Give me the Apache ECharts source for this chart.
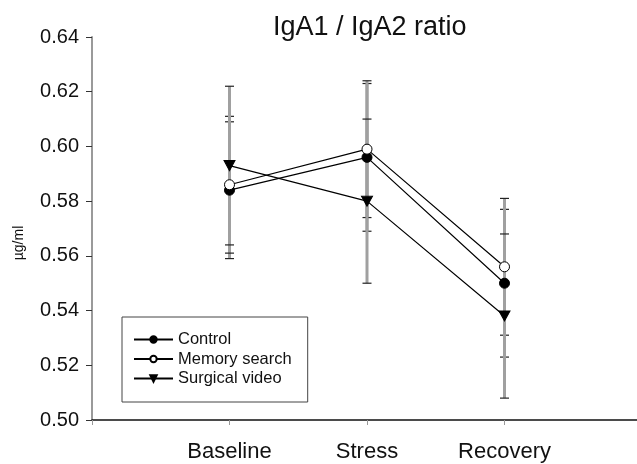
<!DOCTYPE html>
<html>
<head>
<meta charset="utf-8">
<script src="https://cdn.jsdelivr.net/npm/echarts@6/dist/echarts.min.js"></script>
<style>
  html, body { margin: 0; padding: 0; background: #fff; }
  #chart { width: 637px; height: 464px; }
</style>
</head>
<body>
<div id="chart"></div>
<script>
// Phases of the session
const categories = ['Baseline', 'Stress', 'Recovery'];

// Group means (IgA1 / IgA2 ratio)
const controlMean = [0.584, 0.596, 0.550];
const memoryMean = [0.586, 0.599, 0.556];
const surgicalMean = [0.593, 0.580, 0.538];

// Standard errors
const controlErr = [0.025, 0.027, 0.027];
const memoryErr = [0.025, 0.025, 0.025];
const surgicalErr = [0.029, 0.030, 0.030];

const seriesNames = ['Control', 'Memory search', 'Surgical video'];
const yTicks = [0.50, 0.52, 0.54, 0.56, 0.58, 0.60, 0.62, 0.64];

const FONT = '"Liberation Sans", Arial, Helvetica, sans-serif';

// category axis padded with empty slots on both sides
const axisCats = [''].concat(categories, ['']);

function pointsOf(means) {
  return categories.map((c, i) => [c, means[i]]);
}
function barsOf(means, errs) {
  return categories.map((c, i) => [c, means[i] - errs[i], means[i] + errs[i]]);
}

function renderErrorBar(params, api) {
  const x = api.value(0);
  const lo = api.coord([x, api.value(1)]);
  const hi = api.coord([x, api.value(2)]);
  const cap = 4.5;
  return {
    type: 'group',
    children: [
      { type: 'line', shape: { x1: lo[0], y1: lo[1], x2: hi[0], y2: hi[1] },
        style: { stroke: '#a0a0a0', lineWidth: 3 } },
      { type: 'line', shape: { x1: lo[0] - cap, y1: lo[1], x2: lo[0] + cap, y2: lo[1] },
        style: { stroke: '#222', lineWidth: 1.2 } },
      { type: 'line', shape: { x1: hi[0] - cap, y1: hi[1], x2: hi[0] + cap, y2: hi[1] },
        style: { stroke: '#222', lineWidth: 1.2 } }
    ]
  };
}

function errSeries(means, errs) {
  return {
    type: 'custom',
    renderItem: renderErrorBar,
    data: barsOf(means, errs),
    encode: { x: 0, y: [1, 2] },
    z: 1,
    silent: true
  };
}

const triDown = 'path://M0,0L10,0L5,9Z';

const chart = echarts.init(document.getElementById('chart'), null, { renderer: 'canvas' });
chart.setOption({
  animation: false,
  backgroundColor: '#fff',
  textStyle: { fontFamily: FONT },
  title: {
    text: 'IgA1 / IgA2 ratio',
    left: 268,
    top: 9,
    textStyle: { fontFamily: FONT, fontSize: 27, fontWeight: 'normal', color: '#111' }
  },
  graphic: [{
    type: 'text',
    x: 19,
    y: 243,
    rotation: Math.PI / 2,
    style: {
      text: 'µg/ml',
      font: '14px ' + FONT,
      fill: '#111',
      align: 'center',
      verticalAlign: 'middle'
    }
  }],
  legend: {
    data: seriesNames,
    orient: 'vertical',
    left: 122,
    top: 317,
    padding: [14, 16, 15, 11],
    itemWidth: 39,
    itemHeight: 8,
    itemGap: 2.5,
    borderColor: '#444',
    borderWidth: 1,
    textStyle: { fontFamily: FONT, fontSize: 16.5, color: '#111', lineHeight: 14 }
  },
  grid: { left: 92, top: 37, right: -5, height: 383, outerBoundsMode: 'none' },
  xAxis: {
    type: 'category',
    data: axisCats,
    boundaryGap: false,
    axisLine: { lineStyle: { color: '#111', width: 1.5 } },
    axisTick: { show: true, length: 5, lineStyle: { color: '#999' } },
    axisLabel: { fontFamily: FONT, fontSize: 22, color: '#111', margin: 21, interval: 0 },
    splitLine: { show: false }
  },
  yAxis: {
    type: 'value',
    min: yTicks[0],
    max: yTicks[yTicks.length - 1],
    interval: 0.02,
    axisLine: { show: true, lineStyle: { color: '#9a9a9a', width: 2 } },
    axisTick: { show: true, length: 6, lineStyle: { color: '#333' } },
    axisLabel: {
      fontFamily: FONT, fontSize: 20, color: '#111', margin: 13,
      formatter: v => v.toFixed(2)
    },
    splitLine: { show: false }
  },
  series: [
    errSeries(controlMean, controlErr),
    errSeries(memoryMean, memoryErr),
    errSeries(surgicalMean, surgicalErr),
    {
      name: seriesNames[0],
      type: 'line',
      data: pointsOf(controlMean),
      symbol: 'circle',
      symbolSize: 10,
      lineStyle: { color: '#000', width: 1.2 },
      itemStyle: { color: '#000', borderColor: '#000', borderWidth: 1 },
      z: 3
    },
    {
      name: seriesNames[1],
      type: 'line',
      data: pointsOf(memoryMean),
      symbol: 'circle',
      symbolSize: 10,
      lineStyle: { color: '#000', width: 1.2 },
      itemStyle: { color: '#fff', borderColor: '#000', borderWidth: 1 },
      z: 3
    },
    {
      name: seriesNames[2],
      type: 'line',
      data: pointsOf(surgicalMean),
      symbol: triDown,
      symbolSize: [11, 10],
      lineStyle: { color: '#000', width: 1.2 },
      itemStyle: { color: '#000', borderColor: '#000', borderWidth: 1 },
      z: 3
    }
  ]
});
</script>
</body>
</html>
